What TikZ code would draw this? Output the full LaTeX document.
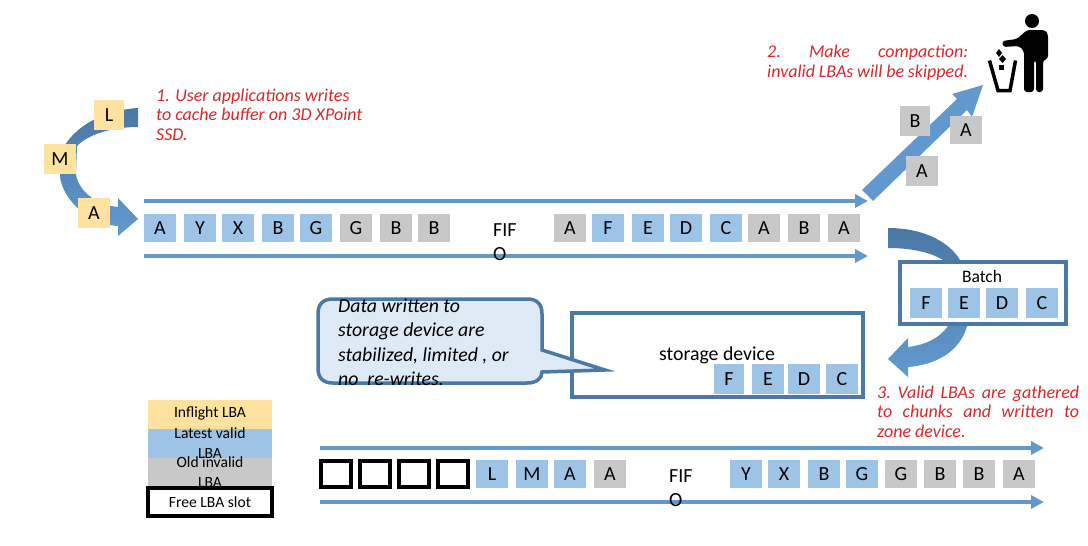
\documentclass[tikz,border=0pt]{standalone}
\usepackage{fontspec}
\setmainfont{Carlito}
\usetikzlibrary{arrows.meta}
\definecolor{validc}{HTML}{9DC3E6}
\definecolor{oldc}{HTML}{C8C8C8}
\definecolor{flightc}{HTML}{FFE29F}
\definecolor{flowc}{HTML}{6199CF}
\definecolor{darkc}{HTML}{4A78A5}
\definecolor{boxc}{HTML}{4A79A6}
\definecolor{redc}{HTML}{D7282A}
\definecolor{callc}{HTML}{DEE9F6}
\tikzset{
  cell/.style={inner sep=0pt,minimum width=32pt,minimum height=28pt,font=\fontsize{20}{22}\selectfont},
  validcell/.style={cell,fill=validc},
  oldcell/.style={cell,fill=oldc},
  flightcell/.style={cell,fill=flightc,minimum width=30pt,minimum height=30pt},
  freecell/.style={draw=black,line width=4pt,inner sep=0pt,minimum width=30pt,minimum height=26pt},
  flow/.style={draw=flowc,line width=4pt,-{Triangle[length=13pt,width=13pt]}},
  note/.style={text=redc,font=\fontsize{18}{19.5}\selectfont\itshape,inner sep=0pt,align=left},
  fifo/.style={font=\fontsize{20}{24}\selectfont,inner sep=0pt,align=left},
  legendrect/.style={inner sep=0pt,minimum width=124pt,minimum height=30pt},
  legendtext/.style={inner sep=0pt,align=center,font=\fontsize{15.6}{20}\selectfont},
  framebox/.style={draw=boxc,line width=4pt,fill=white,inner sep=0pt},
  bigarrow/.style={top color=darkc,bottom color=flowc,draw=none},
}
\begin{document}
\begin{tikzpicture}[x=1pt,y=-1pt]
\useasboundingbox (0,0) rectangle (1088,546);

% write arrow
\path[bigarrow] (138,108) .. controls (105,110) and (75,125) .. (62,150) -- (60,174)
  .. controls (60,195) and (85,224) .. (118,226) -- (118,236) -- (138,219) -- (118,198) -- (118,207)
  .. controls (95,205) and (78,190) .. (76,174) -- (77,146)
  .. controls (88,135) and (110,127) .. (138,127) -- cycle;
\node[flightcell] (inL) at (109,115) {L};
\node[flightcell,minimum width=32pt] (inM) at (60,159) {M};
\node[flightcell,minimum width=32pt] (inA) at (94,213) {A};
\node[note,anchor=north west] (note1) at (156,88.5) {1. User applications writes\\to cache buffer on 3D XPoint\\SSD.};

% FIFO 1 rails
\coordinate (t1s) at (144,201); \coordinate (t1e) at (868,201);
\coordinate (b1s) at (144,256); \coordinate (b1e) at (868,256);
\draw[flow] (t1s) -- (t1e);
\draw[flow] (b1s) -- (b1e);
\node[validcell] (a1) at (160,228) {A};
\node[validcell] (a2) at (200,228) {Y};
\node[validcell] (a3) at (238,228) {X};
\node[validcell] (a4) at (278,228) {B};
\node[validcell] (a5) at (316,228) {G};
\node[oldcell] (a6) at (356,228) {G};
\node[oldcell] (a7) at (396,228) {B};
\node[oldcell] (a8) at (434,228) {B};
\node[fifo,anchor=north west] (fifoa) at (493,223) {FIF\\O};
\node[oldcell] (a9) at (570,228) {A};
\node[validcell] (a10) at (608,228) {F};
\node[validcell] (a11) at (648,228) {E};
\node[validcell] (a12) at (686,228) {D};
\node[validcell] (a13) at (726,228) {C};
\node[oldcell] (a14) at (764,228) {A};
\node[oldcell] (a15) at (804,228) {B};
\node[oldcell] (a16) at (844,228) {A};

% compaction arrow
\path[fill=flowc] (862,190) -- (957,99) -- (952,94) -- (983,85) -- (972,117) -- (967,110) -- (873,201) -- cycle;
\node[oldcell,minimum width=30pt,minimum height=30pt] (g1) at (915,121) {B};
\node[oldcell,minimum height=28pt] (g2) at (966,130) {A};
\node[oldcell,minimum height=30pt] (g3) at (922,171) {A};
\node[note,anchor=north west,text width=201pt,align=justify] (note2) at (767,45) {2.\hfill Make\hfill compaction:\\invalid LBAs will be skipped.};

% person and bin
\path[fill=black] (1032,21) circle (7);
\path[fill=black,rounded corners=3] (1002,41) -- (1017,39) -- (1027,30) -- (1045,30) -- (1048,34) -- (1048,59) -- (1043,60) -- (1043,92) -- (1036,92) -- (1036,60) -- (1034,60) -- (1034,92) -- (1024,92) -- (1024,51) -- (1019,46) -- (1003,47) -- cycle;
\path[draw=black,line width=3.5pt,line join=miter] (989.5,60.5) -- (998,90.5) -- (1010,90.5) -- (1015.5,60.5);
\path[fill=black] (999,49) -- (1002,53) -- (999,57) -- (996,53) -- cycle;
\path[fill=black] (1002.5,55) -- (1006,59) -- (1002.5,63) -- (999,59) -- cycle;
\path[fill=black] (998.5,65) rectangle (1004,70);

% batch arrow
\path[bigarrow] (888,228) .. controls (925,228) and (950,243) .. (960,260) -- (967,326)
  .. controls (960,352) and (935,365) .. (908,367) -- (908,377) -- (888,359) -- (908,338) -- (908,347)
  .. controls (925,345) and (940,338) .. (948,326) -- (943,260)
  .. controls (930,252) and (910,248) .. (888,248) -- cycle;
\node[framebox,minimum width=166pt,minimum height=62pt] (batch) at (983,293) {};
\node[inner sep=0pt,font=\fontsize{17.5}{20}\selectfont] (batchlbl) at (982,276) {Batch};
\node[validcell,minimum height=30pt] (b1) at (926,303) {F};
\node[validcell,minimum height=30pt] (b2) at (964,303) {E};
\node[validcell,minimum height=30pt] (b3) at (1002,303) {D};
\node[validcell,minimum height=30pt] (b4) at (1042,303) {C};
\node[note,anchor=north west,text width=202pt,align=justify] (note3) at (877,385.5) {3.\hfill Valid\hfill LBAs\hfill are\hfill gathered\\to\hfill chunks\hfill and\hfill written\hfill to\\zone device.};

% storage device
\node[framebox,minimum width=291pt,minimum height=84pt] (store) at (717.5,355) {};
\node[inner sep=0pt,font=\fontsize{19.8}{22}\selectfont] (storelbl) at (717,355) {storage device};
\node[validcell,minimum width=30pt,minimum height=30pt] (s1) at (729,379) {F};
\node[validcell,minimum height=30pt] (s2) at (768,379) {E};
\node[validcell,minimum height=30pt] (s3) at (804,379) {D};
\node[validcell,minimum height=30pt] (s4) at (842,379) {C};

% callout
\path[draw=boxc,fill=callc,line width=3.5pt,line join=miter]
  (333,299) -- (527,299) .. controls (537,299) and (542,304) .. (542,314) -- (542,350) -- (605,370) -- (542,372)
  .. controls (542,378) and (537,383) .. (527,383) -- (333,383)
  .. controls (323,383) and (318,378) .. (318,368) -- (318,314) .. controls (318,304) and (323,299) .. (333,299) -- cycle;
\node[font=\fontsize{19.8}{24.4}\selectfont\itshape,inner sep=0pt,align=left,anchor=north west] (calltext) at (338,298.5) {Data written to\\storage device are\\stabilized, limited , or\\no~ re-writes.};

% legend
\node[legendrect,fill=flightc,minimum height=29pt] (l1) at (210,414.5) {};
\node[legendrect,fill=validc] (l2) at (210,443.5) {};
\node[legendrect,fill=oldc] (l3) at (210,473) {};
\node[legendtext] (t1) at (210,413) {Inflight LBA};
\node[legendtext] (t2) at (210,443) {Latest valid\\LBA};
\node[legendtext] (t3) at (210,472) {Old invalid\\LBA};
\node[draw=black,line width=4pt,fill=white,inner sep=0pt,minimum width=124pt,minimum height=28pt,font=\fontsize{15.6}{20}\selectfont] (l4) at (210,502) {Free LBA slot};

% FIFO 2
\coordinate (t2s) at (320,448); \coordinate (t2e) at (1044,448);
\coordinate (b2s) at (320,502); \coordinate (b2e) at (1044,502);
\draw[flow] (t2s) -- (t2e);
\draw[flow] (b2s) -- (b2e);
\node[freecell] (f1) at (336,474) {};
\node[freecell] (f2) at (375,474) {};
\node[freecell] (f3) at (414,474) {};
\node[freecell] (f4) at (453,474) {};
\node[validcell] (c1) at (492,474) {L};
\node[validcell] (c2) at (532,474) {M};
\node[validcell] (c3) at (570,474) {A};
\node[oldcell] (c4) at (610,474) {A};
\node[fifo,anchor=north west] (fifob) at (669,469) {FIF\\O};
\node[validcell] (c5) at (746,474) {Y};
\node[validcell] (c6) at (784,474) {X};
\node[validcell] (c7) at (824,474) {B};
\node[validcell] (c8) at (862,474) {G};
\node[oldcell] (c9) at (901,474) {G};
\node[oldcell] (c10) at (940,474) {B};
\node[oldcell] (c11) at (979,474) {B};
\node[oldcell] (c12) at (1019,474) {A};
\end{tikzpicture}
\end{document}
